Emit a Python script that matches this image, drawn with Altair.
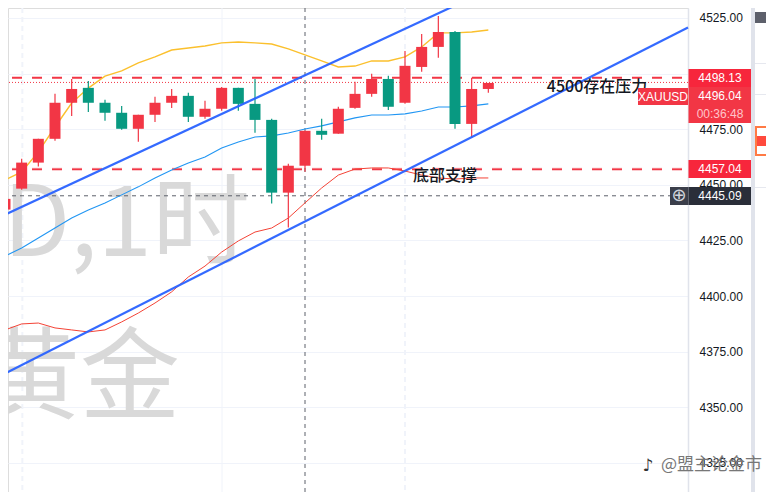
import altair as alt
import pandas as pd

hi = [4449.1,4461.7,4470.7,4490.9,4497.6,4496.7,4488.2,4485.5,4481.5,4489.6,4493.1,4491.4,4487.8,4494.0,4493.6,4497.6,4479.7,4459.5,4474.3,4479.7,4485.1,4496.3,4499.9,4499.0,4510.2,4517.8,4525.9,4519.2,4498.1,4495.8]
lo = [4438.4,4447.8,4458.2,4469.8,4481.0,4482.8,4478.8,4474.8,4469.4,4478.3,4484.6,4478.3,4479.7,4483.3,4483.3,4473.4,4441.6,4430.8,4455.9,4470.3,4473.0,4484.2,4489.6,4483.7,4486.4,4500.8,4507.1,4475.2,4471.2,4491.4]
body_top = [4443.7,4460.0,4470.7,4486.9,4493.1,4493.6,4486.9,4482.4,4481.5,4486.9,4490.0,4490.0,4484.2,4493.6,4493.6,4486.4,4479.2,4458.6,4474.3,4474.3,4484.2,4490.9,4497.6,4497.6,4503.5,4512.0,4518.7,4518.7,4493.1,4495.8]
body_bot = [4438.9,4448.3,4460.0,4470.7,4486.9,4486.9,4482.4,4475.2,4475.2,4481.5,4486.9,4480.6,4480.6,4484.2,4486.4,4479.2,4446.5,4446.5,4458.6,4472.5,4473.0,4484.6,4490.9,4485.1,4486.9,4503.0,4512.0,4477.4,4477.4,4493.1]
up = [1,1,1,1,1,0,0,0,1,1,1,0,1,1,0,0,0,1,1,0,1,1,1,0,1,1,1,0,1,1]

ma_yellow = [4452.2,4455.8,4464.8,4476.0,4486.8,4493.5,4498.9,4501.2,4504.8,4507.5,4510.6,4511.5,4512.4,4513.8,4514.2,4513.8,4513.3,4511.1,4508.4,4505.7,4503.0,4503.4,4505.7,4505.7,4507.5,4512.0,4518.3,4518.3,4518.7,4519.6]
ma_blue = [4418.0,4421.6,4426.1,4430.6,4435.1,4438.7,4441.9,4445.5,4449.1,4453.1,4456.7,4459.8,4462.5,4466.6,4469.3,4471.5,4472.0,4473.3,4475.1,4476.5,4478.3,4480.1,4481.4,4481.4,4481.9,4483.2,4485.0,4485.0,4485.5,4486.4]
ma_red = [4384.8,4387.5,4387.9,4385.7,4384.8,4383.9,4384.8,4388.4,4392.4,4396.9,4401.9,4408.6,4413.5,4419.8,4424.8,4428.8,4430.6,4435.1,4441.9,4448.6,4454.4,4457.1,4457.6,4457.6,4456.2,4454.4,4453.1,4452.6,4453.1,4453.1]

upper_i = [-0.3, 27.72]
upper_p = [4435.6, 4533.1]
lower_i = [-0.3, 40.98]
lower_p = [4364.1, 4520.7]

ticks = [4525,4500,4475,4450,4425,4400,4375,4350,4325]
CROSS_I = 18
CROSS_P = 4445.09

FONT = "Liberation Sans"
CJK = "Noto Sans CJK SC"
RED = "#f23645"
GREEN = "#089981"

sx = alt.Scale(domain=[0.18, 40.98], nice=False, zero=False, padding=0)
sy = alt.Scale(domain=[4311.96, 4529.49], nice=False, zero=False, padding=0)
X = alt.X("i:Q", scale=sx, axis=None)
Y = alt.Y("p:Q", scale=sy, title=None, axis=alt.Axis(
    orient="right", values=ticks, format=".2f", grid=True, gridColor="#f0f3fa", gridWidth=1,
    tickSize=0, labelPadding=11, labelAlign="left", labelFont=FONT, labelFontSize=12,
    labelColor="#131722", domainColor="#e0e3eb", domainWidth=1.5, labelOverlap=False, labelBound=False, labelFlush=False))
Y2 = alt.Y2("p2:Q")

idx = list(range(len(hi)))
candles = pd.DataFrame({"i": idx, "p": lo, "p2": hi, "t": body_top, "b": body_bot,
                        "d": ["u" if u else "d" for u in up]})
col = alt.Color("d:N", scale=alt.Scale(domain=["u", "d"], range=[RED, GREEN]), legend=None)
wick = alt.Chart(candles).mark_rule(strokeWidth=1.2).encode(x=X, y=Y, y2=Y2, color=col)
body = alt.Chart(candles).mark_bar(size=11, cornerRadius=0).encode(
    x=X, y=alt.Y("b:Q", scale=sy, title=None), y2=alt.Y2("t:Q"), color=col)

def ma(vals, color, w):
    return alt.Chart(pd.DataFrame({"i": idx, "p": vals})).mark_line(color=color, strokeWidth=w).encode(x=X, y=Y)

def channel(i, p):
    return alt.Chart(pd.DataFrame({"i": i, "p": p})).mark_line(color="#2962ff", strokeWidth=2.2, opacity=0.95).encode(x=X, y=Y)

one = pd.DataFrame({"a": [0]})

def hrule(p, **kw):
    return alt.Chart(pd.DataFrame({"p": [p]})).mark_rule(**kw).encode(y=Y)

def vrule(i, **kw):
    return alt.Chart(pd.DataFrame({"i": [i]})).mark_rule(**kw).encode(x=X)

def txt(s, x, y, **kw):
    return alt.Chart(one).mark_text(text=s, **kw).encode(x=alt.value(x - 8), y=alt.value(y - 8))

def box(x1, x2, y1, y2, **kw):
    return alt.Chart(one).mark_rect(**kw).encode(
        x=alt.value(x1 - 8), x2=alt.value(x2 - 8), y=alt.value(y1 - 8), y2=alt.value(y2 - 8))

layers = [
    hrule(4475, opacity=0),
    vrule(13.02, color="#f0f3fa", strokeWidth=1),
    vrule(1.04, color="#f0f3fa", strokeWidth=2, strokeDash=[5, 4]),
    vrule(24.0, color="#f0f3fa", strokeWidth=2, strokeDash=[5, 4]),
    txt("XAUUSD,1时", 250, 256, align="right", baseline="alphabetic", font=CJK, fontSize=98, color="#d9d9d9"),
    txt("黄金", 180, 411, align="right", baseline="alphabetic", font=CJK, fontSize=100, color="#d9d9d9"),
    hrule(4498.13, color=RED, strokeWidth=2, strokeDash=[10, 10], strokeDashOffset=14),
    hrule(4496.04, color=RED, strokeWidth=1, strokeDash=[1, 2]),
    hrule(4457.04, color=RED, strokeWidth=3, strokeDash=[10, 10], strokeDashOffset=14, opacity=0.35),
    hrule(4457.04, color=RED, strokeWidth=1.5, strokeDash=[10, 10], strokeDashOffset=14),
    hrule(CROSS_P, color="#5d606b", strokeWidth=1, strokeDash=[4, 4]),
    vrule(CROSS_I, color="#5d606b", strokeWidth=1, strokeDash=[4, 4]),
    ma(ma_yellow, "#fbc02d", 1.4),
    ma(ma_blue, "#2196f3", 1.1),
    ma(ma_red, "#f44336", 1),
    wick, body,
    channel(upper_i, upper_p),
    channel(lower_i, lower_p),
    txt("4500存在压力", 597, 87, align="center", baseline="middle", font=CJK, fontSize=16, color="#131722", fontWeight=500),
    txt("底部支撑", 445, 176, align="center", baseline="middle", font=CJK, fontSize=16, color="#131722", fontWeight=500),
    box(688.5, 751, 69, 87, color="#f7263c"),
    box(688.5, 751, 87, 123, color=RED),
    box(688.5, 751, 160, 178, color="#f7263c"),
    box(688.5, 751, 187, 205, color="#2a2e39"),
    box(670, 688.5, 187, 205, color="#3a3e4a"),
    box(638, 688, 88, 105, color=RED),
    txt("4498.13", 720, 78, align="center", baseline="middle", font=FONT, fontSize=12, color="#ffffff"),
    txt("4496.04", 720, 96, align="center", baseline="middle", font=FONT, fontSize=12, color="#ffffff"),
    txt("00:36:48", 720, 114, align="center", baseline="middle", font=FONT, fontSize=12, color="#ffc4ca"),
    txt("4457.04", 720, 169, align="center", baseline="middle", font=FONT, fontSize=12, color="#ffffff"),
    txt("4445.09", 720, 196, align="center", baseline="middle", font=FONT, fontSize=12, color="#ffffff"),
    txt("XAUUSD", 663, 96.5, align="center", baseline="middle", font=FONT, fontSize=12, color="#ffffff"),
    txt("⊕", 679, 196, align="center", baseline="middle", font="DejaVu Sans", fontSize=18, color="#d1d4dc"),
    box(751, 755, 8, 492, color="#e0e3eb"),
    box(755, 766, 63, 63.8, color="#e0e3eb"),
    box(755, 766, 94, 94.8, color="#e0e3eb"),
    box(755, 766, 187, 187.8, color="#e0e3eb"),
    box(755, 766, 12, 23, color="#5d606b"),
    box(756, 768, 127, 155, fill="#ffffff", stroke="#ff7a45", strokeWidth=2),
    box(757, 766, 136, 146, color="#ff4a3d"),
    txt("♪", 648, 466, align="center", baseline="middle", font="DejaVu Sans", fontSize=17, color="#333333"),
    txt("@盟主论金市", 661, 465, align="left", baseline="middle", font=CJK, fontSize=17, color="#777777"),
]

chart = alt.layer(*layers).properties(
    width=680, height=484,
    padding={"left": 0, "top": 0, "right": 78, "bottom": 0},
    autosize=alt.AutoSizeParams(type="none"),
).configure_view(stroke="transparent", strokeWidth=0).configure(background="#ffffff")

chart.save("out.html", embed_options={"renderer": "svg", "actions": False})
